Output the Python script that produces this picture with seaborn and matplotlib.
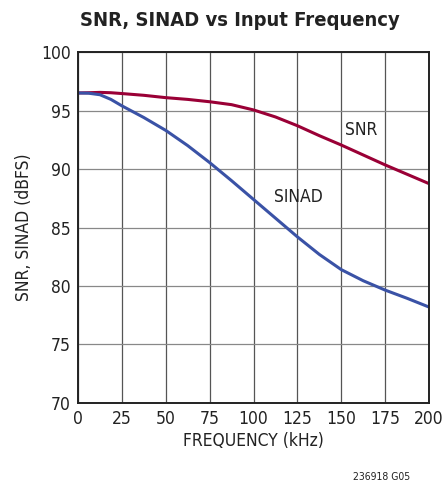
import matplotlib
matplotlib.use("Agg")
import matplotlib.pyplot as plt
import seaborn as sns
import pandas as pd

freq_khz = [0, 6, 12.5, 18.75, 25, 37.5, 50, 62.5, 75, 87.5, 100, 112.5, 125, 137.5, 150, 162.5, 175, 187.5, 200]
snr_db = [96.5, 96.52, 96.55, 96.52, 96.45, 96.3, 96.1, 95.95, 95.75, 95.5, 95.05, 94.45, 93.7, 92.85, 92.05, 91.2, 90.35, 89.55, 88.75]
sinad_db = [96.5, 96.48, 96.35, 95.95, 95.4, 94.4, 93.3, 92.0, 90.55, 89.0, 87.4, 85.8, 84.2, 82.7, 81.4, 80.45, 79.65, 78.95, 78.2]

snr_color = "#9a0036"
sinad_color = "#3a52a6"

sns.set_style("white")
plt.rcParams["font.family"] = ["DejaVu Sans"]
plt.rcParams["font.stretch"] = "condensed"

df = pd.DataFrame({"freq": freq_khz * 2,
                   "val": snr_db + sinad_db,
                   "curve": ["SNR"] * len(freq_khz) + ["SINAD"] * len(freq_khz)})

fig = plt.figure(figsize=(4.45, 4.88), dpi=100)
ax = fig.add_axes([0.1753, 0.1742, 0.7888, 0.7192])

sns.lineplot(data=df, x="freq", y="val", hue="curve", palette={"SNR": snr_color, "SINAD": sinad_color},
             linewidth=2.2, legend=False, ax=ax)

ax.set_xlim(0, 200)
ax.set_ylim(70, 100)
ax.set_xticks(range(0, 201, 25))
ax.set_yticks(range(70, 101, 5))
ax.grid(True, axis="x", color="#555555", linewidth=0.9)
ax.grid(True, axis="y", color="#888888", linewidth=0.9)
ax.set_axisbelow(True)
for s in ax.spines.values():
    s.set_color("#222222")
    s.set_linewidth(1.4)
ax.tick_params(labelsize=12.5, length=0, pad=5, colors="#222222")
ax.set_xlabel("FREQUENCY (kHz)", fontsize=12.5, color="#222222", labelpad=3)
ax.set_ylabel("SNR, SINAD (dBFS)", fontsize=12.5, color="#222222", labelpad=6)

ax.text(161.5, 93.3, "SNR", fontsize=12.5, color="#222222", ha="center", va="center")
ax.text(125.5, 87.6, "SINAD", fontsize=12.5, color="#222222", ha="center", va="center")

fig.text(0.538, 0.958, "SNR, SINAD vs Input Frequency", fontsize=14.5, fontweight="bold",
         color="#222222", ha="center", va="center")
fig.text(0.858, 0.022, "236918 G05", fontsize=7.5, color="#222222", ha="center", va="center")

fig.savefig("out.png", dpi=100)
